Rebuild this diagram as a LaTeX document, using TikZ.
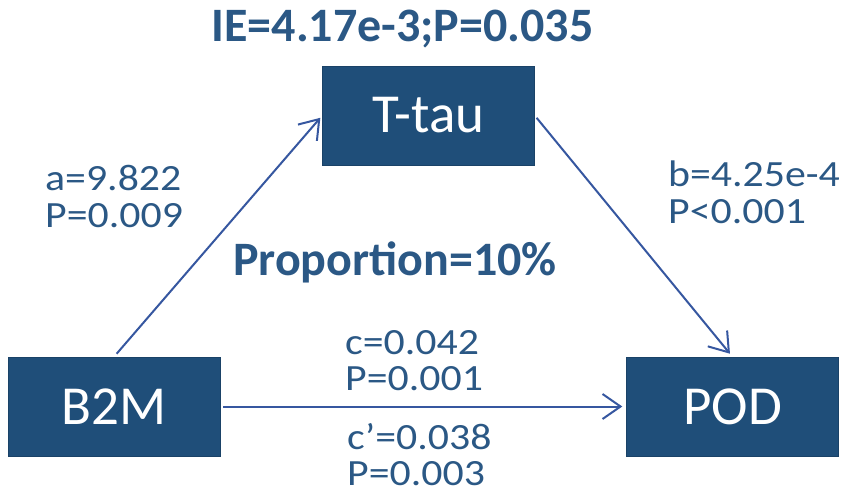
\documentclass[tikz,border=0pt]{standalone}
\usepackage{fontspec}
\setmainfont{Carlito}
\newfontfamily\lblfont{Carlito}[FakeStretch=1.13]
\usetikzlibrary{arrows.meta}
\definecolor{boxblue}{HTML}{1F4E79}
\definecolor{txtblue}{HTML}{2B5885}
\definecolor{lineblue}{HTML}{3657A0}
\begin{document}
\begin{tikzpicture}[x=1pt,y=-1pt,
    box/.style={draw=boxblue!85!black,fill=boxblue,text=white,minimum width=212pt,
      minimum height=99pt,inner sep=0pt,font=\fontsize{55}{60}\selectfont},
    lbl/.style={text=txtblue,align=left,inner sep=0pt,anchor=base west,
      font=\lblfont\fontsize{37}{36}\selectfont},
    head/.style={text=txtblue,inner sep=0pt,anchor=base,font=\bfseries\fontsize{48}{52}\selectfont},
    arr/.style={draw=lineblue,line width=2pt,-{Straight Barb[length=18pt,width=25pt]}}]
  \useasboundingbox (0,0) rectangle (851,497);
  % boxes
  \node[box] (ttau) at (428.5,115.5) {T-tau};
  \node[box] (b2m) at (114,406.5) {B2M};
  \node[box] (pod) at (732.5,406.5) {POD};
  % paths
  \draw[arr,shorten <=4pt,shorten >=3pt] (b2m.north) -- (ttau.west);
  \draw[arr,shorten <=3pt,shorten >=4pt] (ttau.east) -- (pod.north);
  \draw[arr,shorten <=3pt,shorten >=4pt] (b2m.east) -- (pod.west);
  % labels (base = last line)
  \node[head] (ie) at (402.5,42) {IE=4.17e-3;P=0.035};
  \node[head] (prop) at (395,275) {Proportion=10\%};
  \node[lbl] (a) at (45,227) {a=9.822\\P=0.009};
  \node[lbl] (b) at (668,223) {b=4.25e-4\\P<0.001};
  \node[lbl] (c) at (345,390) {c=0.042\\P=0.001};
  \node[lbl] (cp) at (347,485) {c’=0.038\\P=0.003};
\end{tikzpicture}
\end{document}
